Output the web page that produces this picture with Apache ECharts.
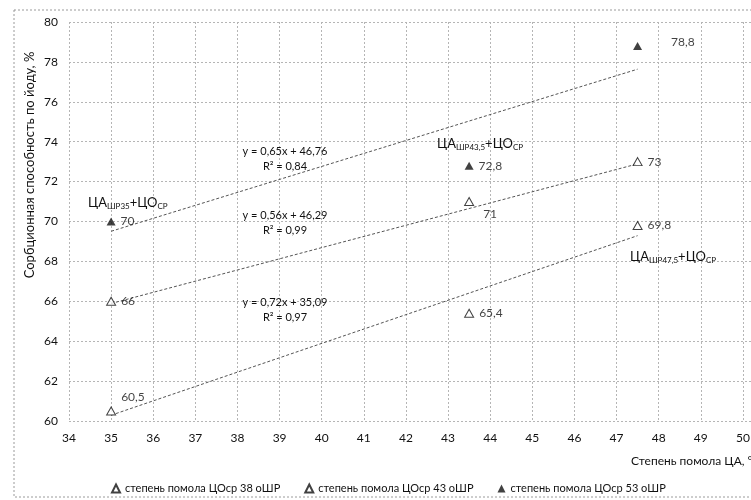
<!DOCTYPE html>
<html>
<head>
<meta charset="utf-8">
<script src="https://cdn.jsdelivr.net/npm/echarts@6/dist/echarts.min.js"></script>
<style>
html,body{margin:0;padding:0;background:#fff;overflow:hidden;}
#chart{width:800px;height:500px;}
</style>
</head>
<body>
<div id="chart"></div>
<script>
// ---- data ----
const xValues = [35, 43.5, 47.5];
const seriesNames = ['степень помола ЦОср 38 оШР', 'степень помола ЦОср 43 оШР', 'степень помола ЦОср 53 оШР'];
const s38 = [60.5, 65.4, 69.8];
const s43 = [66, 71, 73];
const s53 = [70, 72.8, 78.8];
const trendSlope = [0.72, 0.56, 0.65];
const trendIntercept = [35.09, 46.29, 46.76];
const trendR2 = [0.97, 0.99, 0.84];
const trendRange = [35, 47.5];
const xTicks = {min: 34, max: 51, interval: 1};
const yTicks = {min: 60, max: 80, interval: 2};
const annotations = ['ШР35', 'ШР43,5', 'ШР47,5'];

// ---- styling ----
const FONT = 'Lato, "Open Sans", sans-serif';
const TXT = '#111';
const comma = v => String(v).replace('.', ',');

const allSeries = [s38, s43, s53];
const hollow = [true, true, false];
// per-point label placement (style only)
const labelAdj = [
  [{offset:[0,-14]}, {}, {}],
  [{}, {offset:[4,13]}, {}],
  [{}, {}, {offset:[24,-4]}]
];

const chart = echarts.init(document.getElementById('chart'), null, {renderer:'canvas'});

const series = [];
allSeries.forEach((vals, si) => {
  series.push({
    name: seriesNames[si],
    type: 'scatter',
    symbol: 'triangle',
    symbolSize: [9, 8],
    z: 5,
    itemStyle: hollow[si] ? {color:'#fff', borderColor:'#111', borderWidth:1} : {color:'#111'},
    label: {show:true, position:'right', distance:5, color:TXT, fontFamily:FONT, fontSize:12,
            formatter: p => comma(p.value[1])},
    data: vals.map((v, i) => {
      const d = {value:[xValues[i], v]};
      if (labelAdj[si][i].offset) d.label = {offset: labelAdj[si][i].offset};
      return d;
    })
  });
});
trendSlope.forEach((k, si) => {
  series.push({
    name: 'trend' + si,
    type: 'line',
    symbol: 'none',
    silent: true,
    z: 3,
    lineStyle: {color:'#555', width:1, type:[3,2]},
    data: trendRange.map(x => [x, +(k * x + trendIntercept[si]).toFixed(3)])
  });
});

function eqText(si) {
  return 'y = ' + comma(trendSlope[si]) + 'x + ' + comma(trendIntercept[si]) + '\nR² = ' + comma(trendR2[si]);
}
function annot(sub, x, y) {
  return {
    type:'text', left:x, top:y, z:10,
    style:{
      text:'{m|ЦА}{s|' + sub + '}{m|+ЦО}{s|СР}',
      rich:{
        m:{fontFamily:FONT, fontSize:13, fill:TXT, lineHeight:16, verticalAlign:'bottom'},
        s:{fontFamily:FONT, fontSize:8, fill:TXT, lineHeight:16, verticalAlign:'bottom', padding:[0,0,-1,0]}
      }
    }
  };
}

const option = {
  animation:false,
  backgroundColor:'#fff',
  textStyle:{fontFamily:FONT},
  grid:{left:69, top:22, right:15, bottom:79, containLabel:false},
  xAxis:{
    type:'value', min:xTicks.min, max:xTicks.max, interval:xTicks.interval,
    axisLine:{show:false}, axisTick:{show:false},
    axisLabel:{color:TXT, fontFamily:FONT, fontSize:12, margin:11},
    splitLine:{show:true, lineStyle:{color:'#b5b5b5', type:[2,2], width:1}}
  },
  yAxis:{
    type:'value', min:yTicks.min, max:yTicks.max, interval:yTicks.interval,
    axisLine:{show:false}, axisTick:{show:false},
    axisLabel:{color:TXT, fontFamily:FONT, fontSize:12, margin:11},
    splitLine:{show:true, lineStyle:{color:'#b5b5b5', type:[2,2], width:1}}
  },
  legend:{
    data: seriesNames,
    left:106, top:478, itemWidth:8, itemHeight:8, itemGap:24,
    textStyle:{color:TXT, fontFamily:FONT, fontSize:11},
    selectedMode:false
  },
  graphic:[
    {type:'rect', z:-1, shape:{x:14, y:10, width:900, height:487},
     style:{fill:'none', stroke:'#9a9a9a', lineWidth:1, lineDash:[2,2]}},
    {type:'text', x:30, y:165, rotation:Math.PI/2, z:10,
     style:{text:'Сорбционная способность по йоду, %', fontFamily:FONT, fontSize:13, fill:TXT,
            textAlign:'center', textVerticalAlign:'middle'}},
    {type:'text', left:631, top:455, z:10,
     style:{text:'Степень помола ЦА, °ШР', fontFamily:FONT, fontSize:12, fill:TXT}},
    {type:'text', x:285, y:159, z:10,
     style:{text:eqText(2), fontFamily:FONT, fontSize:11, fill:TXT, textAlign:'center', textVerticalAlign:'middle', lineHeight:15}},
    {type:'text', x:285, y:223, z:10,
     style:{text:eqText(1), fontFamily:FONT, fontSize:11, fill:TXT, textAlign:'center', textVerticalAlign:'middle', lineHeight:15}},
    {type:'text', x:285, y:310, z:10,
     style:{text:eqText(0), fontFamily:FONT, fontSize:11, fill:TXT, textAlign:'center', textVerticalAlign:'middle', lineHeight:15}},
    annot(annotations[0], 88, 196),
    annot(annotations[1], 437, 137),
    annot(annotations[2], 630, 250)
  ],
  series: series
};
chart.setOption(option);
</script>
</body>
</html>
